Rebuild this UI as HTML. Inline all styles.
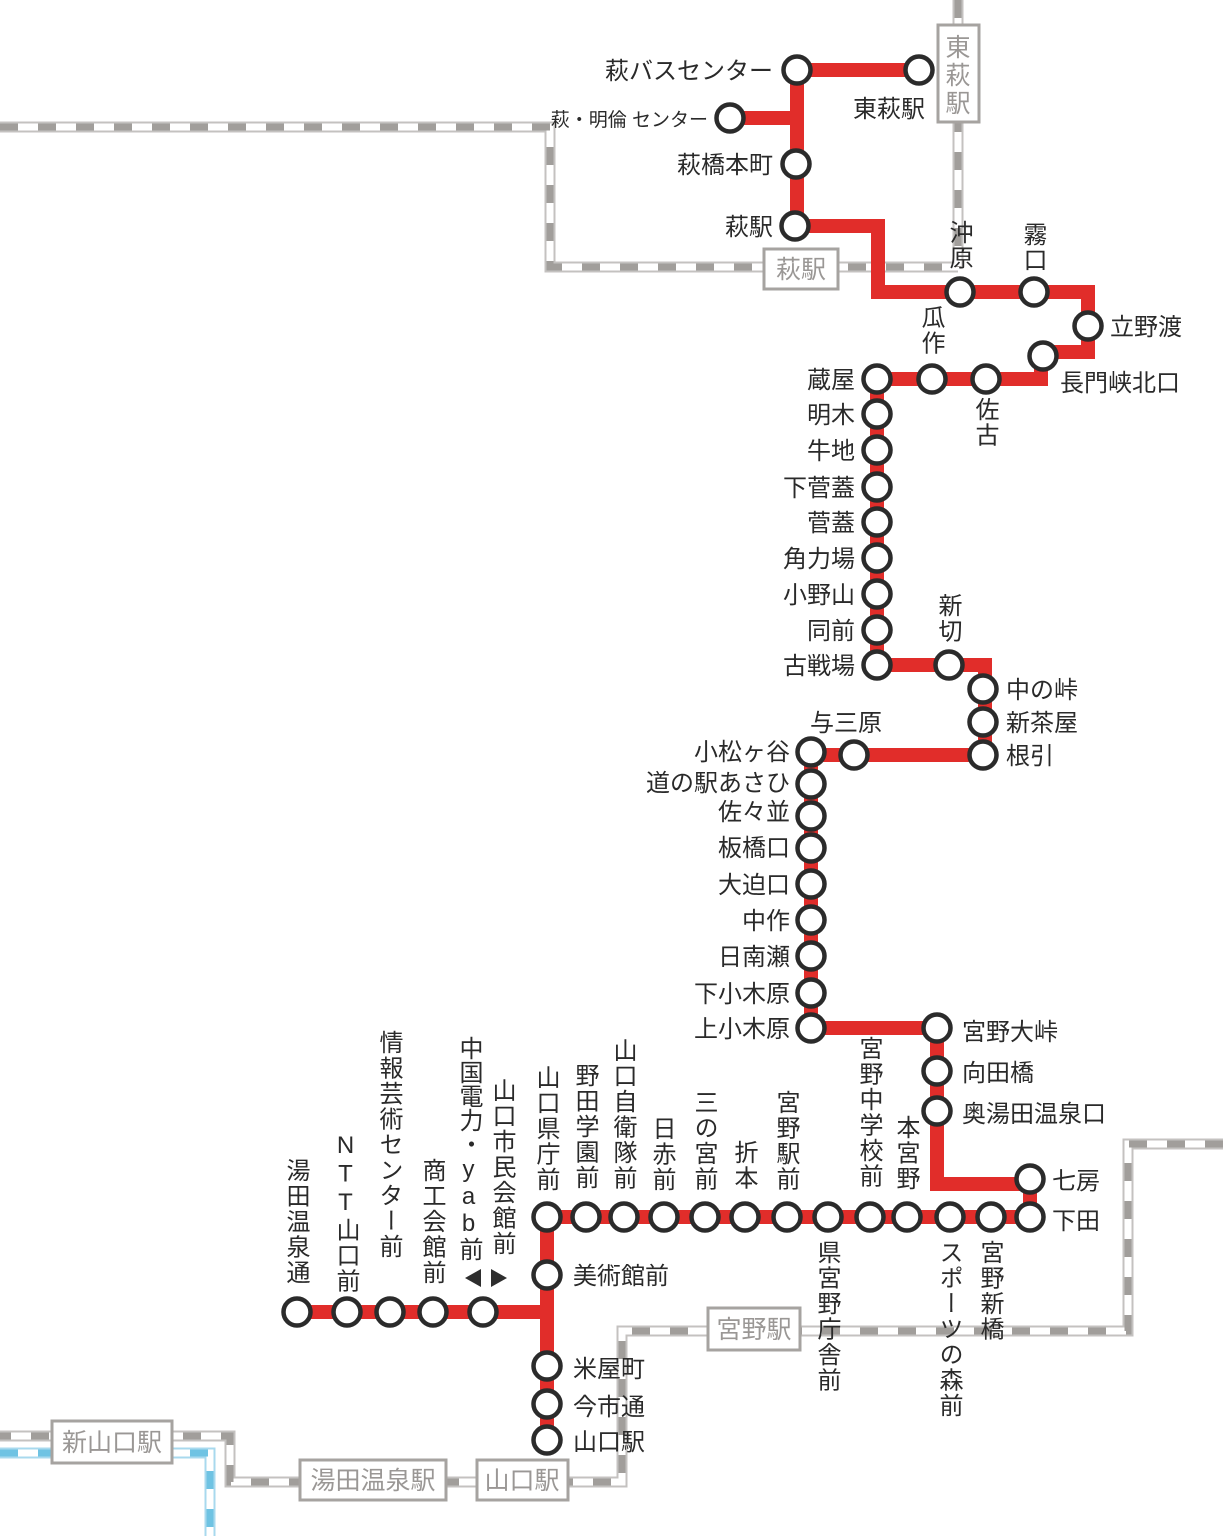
<!DOCTYPE html>
<html><head><meta charset="utf-8"><style>
html,body{margin:0;padding:0;background:#fff;}
#w{position:relative;width:1223px;height:1536px;overflow:hidden;font-family:"Liberation Sans","Noto Sans CJK JP",sans-serif;color:#2e2e2e;}
svg{position:absolute;left:0;top:0;}
.v{position:absolute;writing-mode:vertical-rl;text-orientation:upright;font-size:24px;line-height:24px;width:24px;letter-spacing:1.5px;white-space:nowrap;color:#2a2a2a;}
</style></head><body><div id="w">
<svg width="1223" height="1536" viewBox="0 0 1223 1536" font-family="Liberation Sans, Noto Sans CJK JP, sans-serif">
<g fill="none">
<g id="rails">
<path d="M0 127 H550 V267 H958 M958 0 V267 M1223 1144 H1128 V1331 H622 V1482 H230 V1436 H0" stroke="#c4c2c0" stroke-width="11"/>
<path d="M0 127 H550 V267 H958 M958 0 V267 M1223 1144 H1128 V1331 H622 V1482 H230 V1436 H0" stroke="#fff" stroke-width="7"/>
<path d="M0 127 H550 V267 H958 M958 0 V267 M1223 1144 H1128 V1331 H622 V1482 H230 V1436 H0" stroke="#a19e9b" stroke-width="7" stroke-dasharray="18 20"/>
<path d="M0 1453 H210 V1536" stroke="#a8d9ee" stroke-width="11"/>
<path d="M0 1453 H210 V1536" stroke="#fff" stroke-width="7"/>
<path d="M0 1453 H210 V1536" stroke="#6fc3e3" stroke-width="7" stroke-dasharray="18 20"/>
</g>
<g stroke="#e12d2a" stroke-width="14" stroke-linejoin="miter">
<path d="M797 70 H919"/>
<path d="M797 70 V226"/>
<path d="M730 118 H797"/>
<path d="M795 226 H878 V292 H1088 V352 H1041 V379 H877"/>
<path d="M877 379 V665 H985 V755 H811 V1028 H937 V1184 H1030 V1217 H547 V1440"/>
<path d="M547 1312 H297"/>
</g>
</g>
<g stroke="#a6a3a0" stroke-width="3" fill="#fff">
<rect x="938" y="25" width="41" height="97"/>
<rect x="764" y="249" width="74" height="40"/>
<rect x="708" y="1308" width="92" height="42"/>
<rect x="477" y="1460" width="91" height="40"/>
<rect x="300" y="1460" width="146" height="40"/>
<rect x="52" y="1421" width="120" height="42"/>
</g>
<g fill="#9a9795" font-size="25" text-anchor="middle">
<text x="958" y="56">東</text><text x="958" y="84">萩</text><text x="958" y="112">駅</text>
<text x="801" y="278">萩駅</text>
<text x="754" y="1338">宮野駅</text>
<text x="522" y="1489">山口駅</text>
<text x="373" y="1489">湯田温泉駅</text>
<text x="112" y="1451">新山口駅</text>
</g>
<g fill="#fff" stroke="#2b2b2b" stroke-width="4.5">
<circle cx="797" cy="70" r="13.5"/><circle cx="919" cy="70" r="13.5"/><circle cx="730" cy="118" r="13.5"/>
<circle cx="796" cy="164" r="13.5"/><circle cx="795" cy="226" r="13.5"/>
<circle cx="960" cy="292" r="13.5"/><circle cx="1034" cy="292" r="13.5"/><circle cx="1088" cy="326" r="13.5"/>
<circle cx="1043" cy="356" r="13.5"/><circle cx="986" cy="379" r="13.5"/><circle cx="932" cy="379" r="13.5"/>
<circle cx="877" cy="379" r="13.5"/><circle cx="877" cy="414" r="13.5"/><circle cx="877" cy="450" r="13.5"/>
<circle cx="877" cy="487" r="13.5"/><circle cx="877" cy="522" r="13.5"/><circle cx="877" cy="558" r="13.5"/>
<circle cx="877" cy="594" r="13.5"/><circle cx="877" cy="630" r="13.5"/><circle cx="877" cy="665" r="13.5"/>
<circle cx="949" cy="665" r="13.5"/><circle cx="983" cy="689" r="13.5"/><circle cx="983" cy="722" r="13.5"/>
<circle cx="983" cy="755" r="13.5"/><circle cx="854" cy="755" r="13.5"/><circle cx="811" cy="752" r="13.5"/>
<circle cx="811" cy="784" r="13.5"/><circle cx="811" cy="816" r="13.5"/><circle cx="811" cy="848" r="13.5"/>
<circle cx="811" cy="884" r="13.5"/><circle cx="811" cy="920" r="13.5"/><circle cx="811" cy="956" r="13.5"/>
<circle cx="811" cy="993" r="13.5"/><circle cx="811" cy="1028" r="13.5"/>
<circle cx="937" cy="1028" r="13.5"/><circle cx="937" cy="1071" r="13.5"/><circle cx="937" cy="1111" r="13.5"/>
<circle cx="1030" cy="1179" r="13.5"/><circle cx="1030" cy="1217" r="13.5"/>
<circle cx="991" cy="1217" r="13.5"/><circle cx="950" cy="1217" r="13.5"/><circle cx="907" cy="1217" r="13.5"/>
<circle cx="870" cy="1217" r="13.5"/><circle cx="828" cy="1217" r="13.5"/><circle cx="787" cy="1217" r="13.5"/>
<circle cx="745" cy="1217" r="13.5"/><circle cx="705" cy="1217" r="13.5"/><circle cx="664" cy="1217" r="13.5"/>
<circle cx="624" cy="1217" r="13.5"/><circle cx="586" cy="1217" r="13.5"/><circle cx="547" cy="1217" r="13.5"/>
<circle cx="547" cy="1275" r="13.5"/><circle cx="547" cy="1366" r="13.5"/><circle cx="547" cy="1404" r="13.5"/>
<circle cx="547" cy="1440" r="13.5"/>
<circle cx="483" cy="1312" r="13.5"/><circle cx="433" cy="1312" r="13.5"/><circle cx="390" cy="1312" r="13.5"/>
<circle cx="347" cy="1312" r="13.5"/><circle cx="297" cy="1312" r="13.5"/>
</g>
<g fill="#2a2a2a" font-size="24">
<g text-anchor="end">
<text x="773" y="79">萩バスセンター</text>
<text x="708" y="126" font-size="19">萩・明倫 センター</text>
<text x="773" y="173">萩橋本町</text>
<text x="773" y="235">萩駅</text>
<text x="855" y="388">蔵屋</text><text x="855" y="423">明木</text><text x="855" y="459">牛地</text>
<text x="855" y="496">下菅蓋</text><text x="855" y="531">菅蓋</text><text x="855" y="567">角力場</text>
<text x="855" y="603">小野山</text><text x="855" y="639">同前</text><text x="855" y="674">古戦場</text>
<text x="790" y="760">小松ヶ谷</text><text x="790" y="791">道の駅あさひ</text><text x="790" y="820">佐々並</text>
<text x="790" y="856">板橋口</text><text x="790" y="893">大迫口</text><text x="790" y="929">中作</text>
<text x="790" y="965">日南瀬</text><text x="790" y="1002">下小木原</text><text x="790" y="1037">上小木原</text>
</g>
<text x="853" y="117">東萩駅</text>
<text x="1110" y="335">立野渡</text>
<text x="1060" y="391">長門峡北口</text>
<text x="1006" y="698">中の峠</text><text x="1006" y="731">新茶屋</text><text x="1006" y="764">根引</text>
<text x="810" y="731">与三原</text>
<text x="962" y="1040">宮野大峠</text><text x="962" y="1081">向田橋</text><text x="962" y="1122">奥湯田温泉口</text>
<text x="1052" y="1189">七房</text><text x="1052" y="1229">下田</text>
<text x="573" y="1284">美術館前</text>
<text x="573" y="1377">米屋町</text><text x="573" y="1415">今市通</text><text x="573" y="1450">山口駅</text>
</g>
<g fill="#2e2e2e"><path d="M465 1278 L481 1269 L481 1287 Z M507 1278 L491 1269 L491 1287 Z"/></g>
</svg>
<div class="v" style="left:946px;top:220px">沖原</div>
<div class="v" style="left:1020px;top:222px">霧口</div>
<div class="v" style="left:918px;top:305px">瓜作</div>
<div class="v" style="left:972px;top:397px">佐古</div>
<div class="v" style="left:935px;top:593px">新切</div>
<div class="v" style="left:533px;top:1065px">山口県庁前</div>
<div class="v" style="left:572px;top:1063px">野田学園前</div>
<div class="v" style="left:610px;top:1038px">山口自衛隊前</div>
<div class="v" style="left:649px;top:1116px">日赤前</div>
<div class="v" style="left:691px;top:1090px">三の宮前</div>
<div class="v" style="left:731px;top:1140px">折本</div>
<div class="v" style="left:773px;top:1090px">宮野駅前</div>
<div class="v" style="left:856px;top:1036px">宮野中学校前</div>
<div class="v" style="left:893px;top:1115px">本宮野</div>
<div class="v" style="left:814px;top:1240px">県宮野庁舎前</div>
<div class="v" style="left:936px;top:1240px">スポーツの森前</div>
<div class="v" style="left:977px;top:1240px">宮野新橋</div>
<div class="v" style="left:283px;top:1158px">湯田温泉通</div>
<div class="v" style="left:333px;top:1132px">NTT山口前</div>
<div class="v" style="left:376px;top:1030px">情報芸術センター前</div>
<div class="v" style="left:419px;top:1158px">商工会館前</div>
<div class="v" style="left:456px;top:1036px;letter-spacing:0">中国電力・yab前</div>
<div class="v" style="left:489px;top:1078px">山口市民会館前</div>
</div></body></html>
